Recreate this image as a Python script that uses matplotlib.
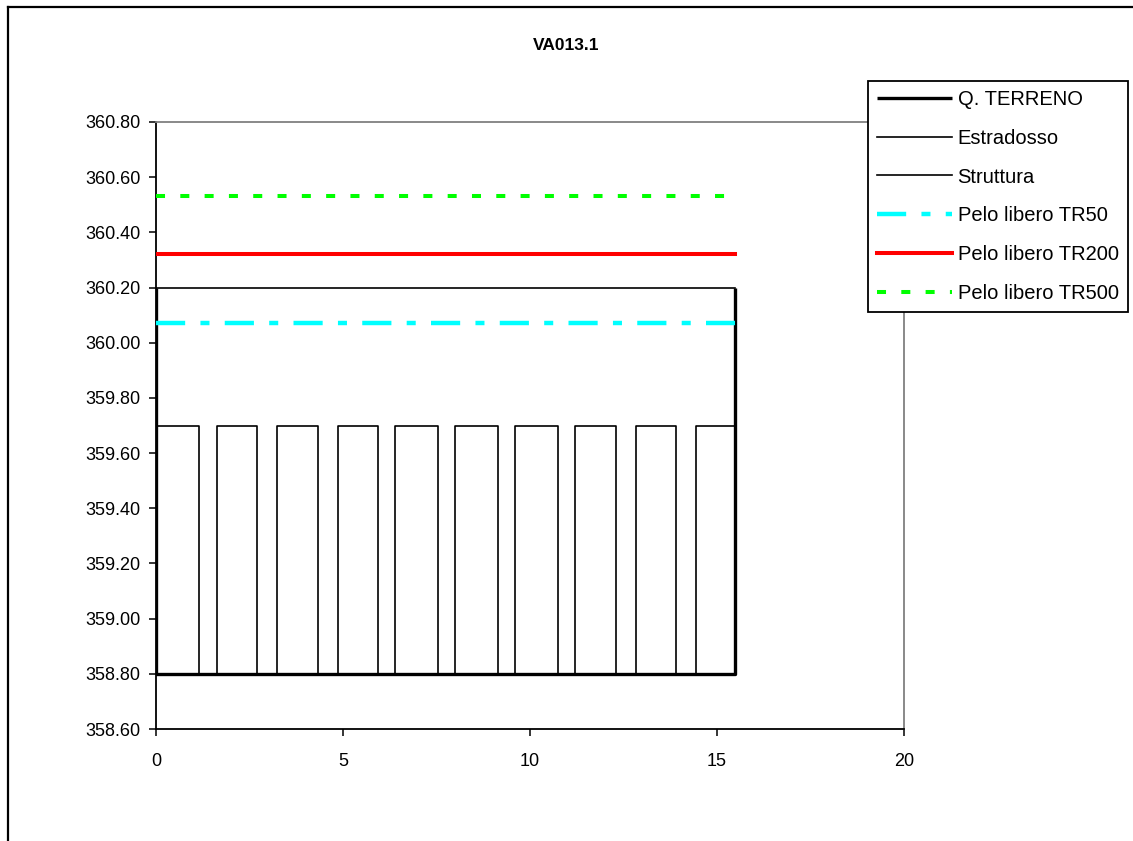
import numpy as np
import matplotlib
matplotlib.use('Agg')
import matplotlib.pyplot as plt
from matplotlib.lines import Line2D

plt.rcParams['font.family'] = ['Liberation Sans', 'DejaVu Sans']
plt.rcParams['lines.scale_dashes'] = False

titolo = 'VA013.1'

# quota terreno e estradosso
terreno_x = [0, 0, 15.48, 15.48]
terreno_y = [360.20, 358.80, 358.80, 360.20]
estradosso_x = [0, 15.48]
estradosso_y = [360.20, 360.20]

# aperture della struttura (inizio, fine)
aperture_inizio = [0, 1.64, 3.24, 4.86, 6.40, 8.00, 9.60, 11.21, 12.83, 14.43]
aperture_fine = [1.16, 2.71, 4.32, 5.93, 7.53, 9.14, 10.74, 12.29, 13.90, 15.48]
quota_fondo = 358.80
quota_intradosso = 359.70

# pelo libero
pelo_x = [0, 15.48]
tr50 = 360.07
tr200 = 360.32
tr500 = 360.53

xticks = [0, 5, 10, 15, 20]
yticks = [358.6, 358.8, 359.0, 359.2, 359.4, 359.6, 359.8, 360.0, 360.2, 360.4, 360.6, 360.8]

# polilinea struttura
sx = []
sy = []
for a, b in zip(aperture_inizio, aperture_fine):
    sx += [a, a, b, b]
    sy += [quota_fondo, quota_intradosso, quota_intradosso, quota_fondo]

fig = plt.figure(figsize=(11.33, 8.41), dpi=100)
ax = fig.add_axes([156/1133, 1-729/841, (904-156)/1133, (729-122)/841])

ax.plot(sx, sy, color='black', lw=1.2, label='_nolegend_', zorder=3)
l_terr, = ax.plot(terreno_x, terreno_y, color='black', lw=2.4, solid_capstyle='butt', zorder=4)
l_estr, = ax.plot(estradosso_x, estradosso_y, color='black', lw=1.2, zorder=3)
l_strut = Line2D([], [], color='black', lw=1.2)
l50, = ax.plot(pelo_x, [tr50, tr50], color='#00FFFF', lw=3.2, dashes=(21, 11, 6.5, 11), zorder=5)
l200, = ax.plot(pelo_x, [tr200, tr200], color='#FF0000', lw=2.9, zorder=5)
l500, = ax.plot(pelo_x, [tr500, tr500], color='#00FF00', lw=2.9, dashes=(6.5, 11), zorder=5)

ax.set_xlim(0, 20)
ax.set_ylim(358.6, 360.8)
ax.set_xticks(xticks)
ax.set_yticks(yticks)
ax.set_xticklabels([str(v) for v in xticks], fontsize=13)
ax.set_yticklabels(['%.2f' % v for v in yticks], fontsize=13)
ax.tick_params(direction='out', length=5, width=1.1, color='black')
ax.tick_params(axis='y', pad=6)
ax.tick_params(axis='x', pad=12.5)

for s in ['left', 'bottom']:
    ax.spines[s].set_color('black')
    ax.spines[s].set_linewidth(1.3)
for s in ['top', 'right']:
    ax.spines[s].set_color('#808080')
    ax.spines[s].set_linewidth(1.3)

fig.text(0.5, 1-45/841, titolo, ha='center', va='center', fontsize=12.5, fontweight='bold')

leg = fig.legend([l_terr, l_estr, l_strut, l50, l200, l500],
                 ['Q. TERRENO', 'Estradosso', 'Struttura', 'Pelo libero TR50',
                  'Pelo libero TR200', 'Pelo libero TR500'],
                 loc='upper left', bbox_to_anchor=(868/1133, 1-81/841),
                 fontsize=14.5, frameon=True, fancybox=False, framealpha=1,
                 edgecolor='black', handlelength=3.7, handletextpad=0.3,
                 labelspacing=0.98, borderpad=0.45, borderaxespad=0)
leg.get_frame().set_linewidth(1.3)

# bordo esterno del grafico
fig.add_artist(Line2D([8/1133, 1], [1-7/841, 1-7/841], transform=fig.transFigure, color='black', lw=1.6))
fig.add_artist(Line2D([8/1133, 8/1133], [0, 1-7/841], transform=fig.transFigure, color='black', lw=1.6))

fig.savefig('out.png', dpi=100)
